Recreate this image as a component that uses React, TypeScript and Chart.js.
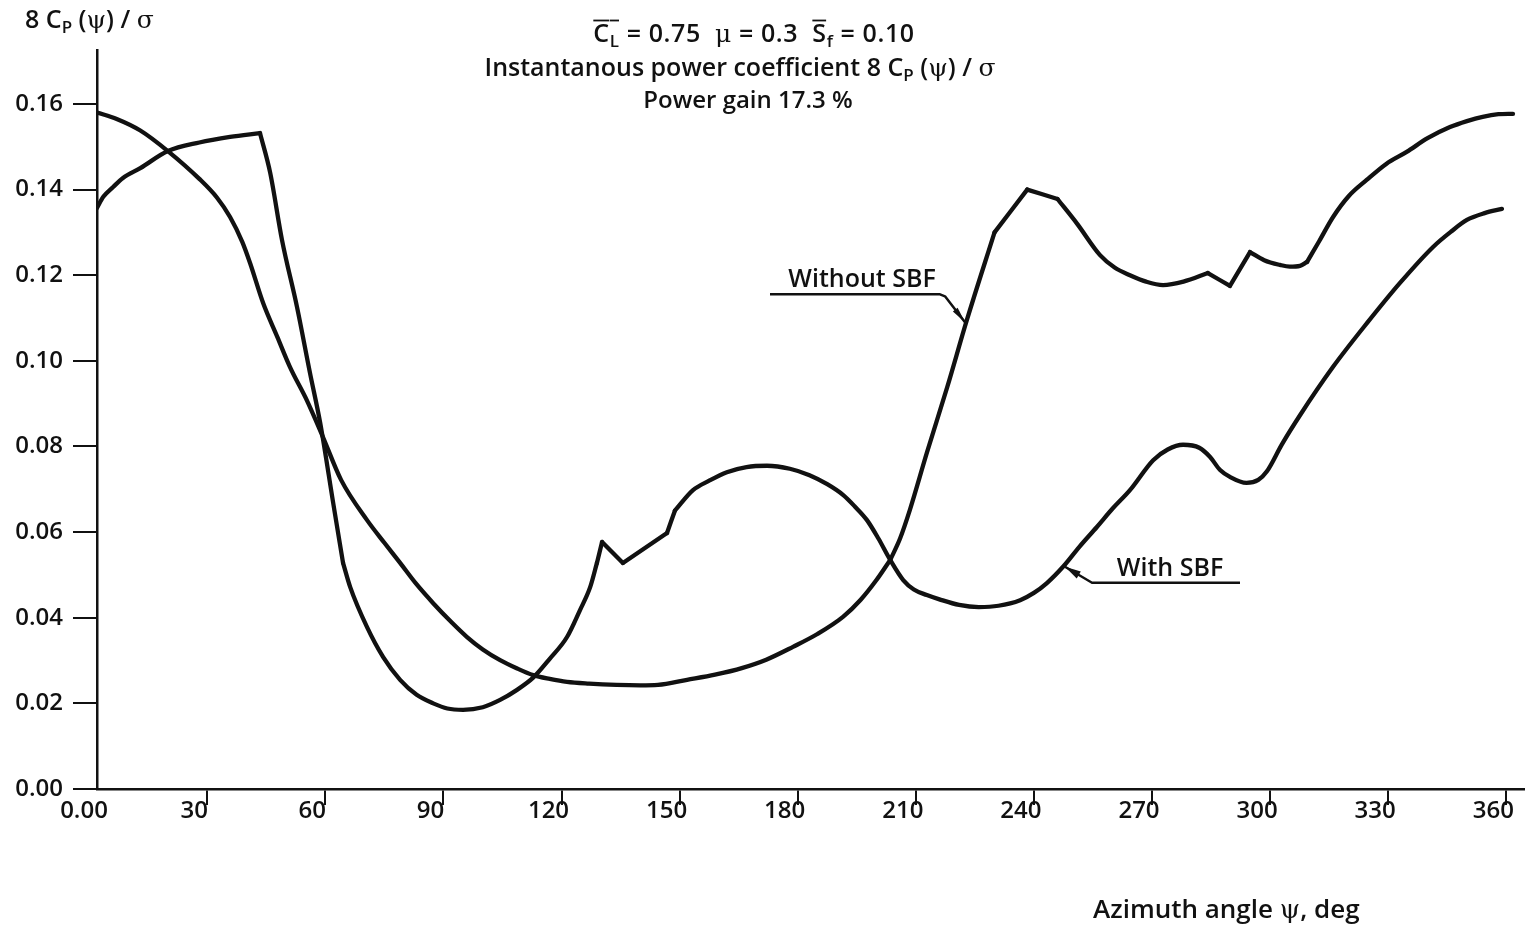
import React, { useEffect, useRef } from "react";
import { Chart, registerables } from "chart.js";

Chart.register(...registerables);

// ---------- data ----------
const angleWithout = [
  2, 7, 13, 20, 28, 32.5, 35.8, 38.9, 40.9, 44.2, 47.8, 51, 55.4, 59.4, 64, 70.6, 75, 79, 83, 87.4,
  92, 96, 100, 104.4, 108.6, 112.8, 117, 121.4, 127, 134, 140, 144.5, 151.9, 159, 166, 172, 178.8,
  185, 191.5, 196, 200, 203.5, 206, 208.5, 212.8, 218, 223, 230, 238.3, 246, 251, 256.8, 260.5,
  264.4, 268.5, 272.8, 278, 284.2, 289.8, 294.9, 298.5, 302.5, 305, 307.6, 309.4, 312.5, 316, 320,
  324.6, 329.5, 334.7, 340, 345.7, 350, 354, 358, 361.7,
];
const valueWithout = [
  0.158, 0.1565, 0.1538, 0.149, 0.1425, 0.1381, 0.1336, 0.1278, 0.1228, 0.1135, 0.1056, 0.0986,
  0.0906, 0.0822, 0.0722, 0.0628, 0.0575, 0.0528, 0.048, 0.0434, 0.039, 0.0355, 0.0326, 0.0301,
  0.0282, 0.0266, 0.0257, 0.025, 0.0246, 0.0243, 0.0242, 0.0243, 0.0255, 0.0267, 0.0283, 0.0302,
  0.0332, 0.0362, 0.0402, 0.0442, 0.0488, 0.0535, 0.0585, 0.0652, 0.0785, 0.0939, 0.1096, 0.13,
  0.14, 0.1378, 0.132, 0.1247, 0.1218, 0.12, 0.1185, 0.1177, 0.1185, 0.1205, 0.1175, 0.1254,
  0.1235, 0.1224, 0.122, 0.1222, 0.1231, 0.128, 0.1336, 0.1385, 0.1423, 0.146, 0.1488, 0.152,
  0.1546, 0.156, 0.157, 0.1576, 0.1577,
];
// angles where the "without" curve has a sharp corner
const cornersWithout = [203.5, 230, 238.3, 246, 284.2, 289.8, 294.9, 309.4];

const angleWith = [
  2, 3.6, 6.1, 8.6, 13, 20, 28, 35.8, 43.4, 46, 49, 52.8, 56.1, 58.7, 62, 64.5, 66.3, 70.6, 74.7,
  79, 83.2, 87.4, 91, 95, 100, 104.4, 108.6, 112.8, 117, 121.4, 124.7, 127.3, 129, 130.3, 135.6,
  146.8, 148.8, 153.4, 157.5, 162, 167, 172.2, 178, 183, 187.5, 191.5, 194.5, 197.6, 200.5, 203.5,
  206.8, 209.5, 212.8, 216, 221, 226, 231, 236.5, 240, 243.3, 247.4, 251.5, 256, 260, 264.4, 270.3,
  274, 277.9, 282, 284.7, 287.3, 289.8, 294, 297, 299.2, 303, 307.6, 316, 324.6, 333, 341.4, 346,
  350, 354.5, 358.9,
];
const valueWith = [
  0.1357, 0.1383, 0.1406, 0.1427, 0.145, 0.149, 0.151, 0.1523, 0.1532, 0.1439, 0.1282, 0.1126,
  0.0972, 0.0855, 0.0668, 0.0528, 0.0472, 0.0378, 0.0308, 0.0255, 0.022, 0.02, 0.0188, 0.0185,
  0.0191, 0.0208, 0.0231, 0.026, 0.0304, 0.0355, 0.0418, 0.0472, 0.0528, 0.0577, 0.0528, 0.0598,
  0.065, 0.0698, 0.072, 0.074, 0.0752, 0.0755, 0.0748, 0.0733, 0.0712, 0.0687, 0.066, 0.0628,
  0.0585, 0.0535, 0.0488, 0.0466, 0.0453, 0.0443, 0.043, 0.0425, 0.0428, 0.0441, 0.0458, 0.0481,
  0.0519, 0.0565, 0.0612, 0.0655, 0.0698, 0.0768, 0.0793, 0.0804, 0.0797, 0.0776, 0.0745, 0.0729,
  0.0715, 0.0722, 0.0742, 0.0805, 0.0873, 0.0986, 0.1088, 0.1182, 0.1266, 0.1302, 0.1329, 0.1345,
  0.1355,
];
// angles where the "with" curve has a sharp corner
const cornersWith = [43.4, 64.5, 129, 130.3, 135.6, 146.8, 148.8];

const X_MIN = 2;
const X_MAX = 364.5;
const Y_MIN = 0;
const Y_MAX = 0.1726;

const xTickValues = [X_MIN, 30, 60, 90, 120, 150, 180, 210, 240, 270, 300, 330, 360];
const xTickLabels = ["0.00", "30", "60", "90", "120", "150", "180", "210", "240", "270", "300", "330", "360"];
const yTickValues = [0, 0.02, 0.04, 0.06, 0.08, 0.1, 0.12, 0.14, 0.16];
const yTickLabels = ["0.00", "0.02", "0.04", "0.06", "0.08", "0.10", "0.12", "0.14", "0.16"];

// callout tips (data space) – where the leader lines touch the curves
const withoutTip = { x: 222.5, y: 0.109 };
const withTip = { x: 247.9, y: 0.0519 };

// ---------- styling ----------
const SANS = '"Open Sans", "Noto Sans", sans-serif';
const SERIF = '"DejaVu Serif", "Liberation Serif", serif';
const WEIGHT = "600";
const INK = "#111";

type Seg = { t: string; sub?: boolean; bar?: boolean; serif?: boolean };

function segFont(s: Seg, size: number) {
  const sz = s.sub ? Math.round(size * 0.68) : size;
  return `${s.serif ? "normal" : WEIGHT} ${sz}px ${s.serif ? SERIF : SANS}`;
}

function drawRich(
  ctx: CanvasRenderingContext2D,
  segs: Seg[],
  x: number,
  y: number,
  size: number,
  align: "left" | "center",
  spacing = 0
) {
  ctx.save();
  ctx.textBaseline = "alphabetic";
  ctx.textAlign = "left";
  ctx.fillStyle = INK;
  (ctx as any).letterSpacing = `${spacing}px`;
  const widths = segs.map((s) => {
    ctx.font = segFont(s, size);
    return ctx.measureText(s.t).width;
  });
  const total = widths.reduce((a, b) => a + b, 0);
  let cx = align === "center" ? x - total / 2 : x;
  segs.forEach((s, i) => {
    ctx.font = segFont(s, size);
    const yy = s.sub ? y + size * 0.18 : y;
    ctx.fillText(s.t, cx, yy);
    if (s.bar) {
      ctx.strokeStyle = INK;
      ctx.lineWidth = 1.8;
      ctx.beginPath();
      const by = y - size * 0.86;
      ctx.moveTo(cx, by);
      ctx.lineTo(cx + widths[i] - spacing, by);
      ctx.stroke();
    }
    cx += widths[i];
  });
  ctx.restore();
}

function arrowHead(ctx: CanvasRenderingContext2D, fx: number, fy: number, tx: number, ty: number, len: number, half: number) {
  const a = Math.atan2(ty - fy, tx - fx);
  const bx = tx - Math.cos(a) * len;
  const by = ty - Math.sin(a) * len;
  ctx.beginPath();
  ctx.moveTo(tx, ty);
  ctx.lineTo(bx + Math.sin(a) * half, by - Math.cos(a) * half);
  ctx.lineTo(bx - Math.sin(a) * half, by + Math.cos(a) * half);
  ctx.closePath();
  ctx.fill();
}

const textPlugin = {
  id: "figureText",
  afterDraw(chart: any) {
    const ctx: CanvasRenderingContext2D = chart.ctx;
    const xs = chart.scales.x;
    const ys = chart.scales.y;

    // y-axis title
    drawRich(ctx, [{ t: "8 C" }, { t: "P", sub: true }, { t: " (" }, { t: "ψ", serif: true }, { t: ") / " }, { t: "σ", serif: true }], 25, 28, 25, "left");

    // header
    drawRich(
      ctx,
      [
        { t: "C", bar: true },
        { t: "L", sub: true, bar: true },
        { t: " = 0.75  " },
        { t: "μ", serif: true },
        { t: " = 0.3  " },
        { t: "S", bar: true },
        { t: "f", sub: true },
        { t: " = 0.10" },
      ],
      754, 42, 25, "center", 0.6
    );
    drawRich(
      ctx,
      [{ t: "Instantanous power coefficient 8 C" }, { t: "P", sub: true }, { t: " (" }, { t: "ψ", serif: true }, { t: ") / " }, { t: "σ", serif: true }],
      740, 76, 25, "center"
    );
    drawRich(ctx, [{ t: "Power gain 17.3 %" }], 748, 108, 24, "center");

    // x-axis title
    drawRich(ctx, [{ t: "Azimuth angle " }, { t: "ψ", serif: true }, { t: ", deg" }], 1093, 918, 26, "left");

    ctx.save();
    ctx.strokeStyle = INK;
    ctx.fillStyle = INK;
    ctx.lineWidth = 2.5;
    ctx.lineJoin = "round";

    // "Without SBF" callout
    const ax = xs.getPixelForValue(withoutTip.x);
    const ay = ys.getPixelForValue(withoutTip.y);
    ctx.beginPath();
    ctx.moveTo(ax - 195, ay - 28);
    ctx.lineTo(ax - 25, ay - 28);
    ctx.lineTo(ax - 20, ay - 26);
    ctx.lineTo(ax, ay);
    ctx.stroke();
    arrowHead(ctx, ax - 20, ay - 26, ax, ay, 16, 3);
    drawRich(ctx, [{ t: "Without SBF" }], ax - 103, ay - 35, 25, "center");

    // "With SBF" callout
    const bx = xs.getPixelForValue(withTip.x);
    const by = ys.getPixelForValue(withTip.y);
    ctx.beginPath();
    ctx.moveTo(bx + 175, by + 16);
    ctx.lineTo(bx + 27, by + 16);
    ctx.lineTo(bx, by);
    ctx.stroke();
    arrowHead(ctx, bx + 27, by + 16, bx, by, 16, 4);
    drawRich(ctx, [{ t: "With SBF" }], bx + 105, by + 9, 25, "center");
    ctx.restore();
  },
};

// split a curve into smooth pieces between its sharp corners
function pieces(angles: number[], values: number[], corners: number[]) {
  const out: { x: number; y: number }[][] = [];
  let cur: { x: number; y: number }[] = [];
  angles.forEach((a, i) => {
    cur.push({ x: a, y: values[i] });
    if (corners.includes(a) && i > 0 && i < angles.length - 1) {
      out.push(cur);
      cur = [{ x: a, y: values[i] }];
    }
  });
  if (cur.length > 1) out.push(cur);
  return out;
}

function lineDataset(label: string, data: { x: number; y: number }[]) {
  return {
    label,
    data,
    showLine: true,
    borderColor: INK,
    borderWidth: 4.3,
    pointRadius: 0,
    cubicInterpolationMode: "monotone",
    borderJoinStyle: "round",
    borderCapStyle: "round",
  };
}

export default function App() {
  const ref = useRef<HTMLCanvasElement | null>(null);

  useEffect(() => {
    if (!ref.current) return;
    const datasets = [
      ...pieces(angleWithout, valueWithout, cornersWithout).map((d) => lineDataset("Without SBF", d)),
      ...pieces(angleWith, valueWith, cornersWith).map((d) => lineDataset("With SBF", d)),
    ];
    const tickFont = { family: SANS, size: 24, weight: WEIGHT };
    const chart = new Chart(ref.current, {
      type: "scatter",
      data: { datasets },
      options: {
        responsive: false,
        maintainAspectRatio: false,
        devicePixelRatio: 1,
        animation: false,
        layout: { padding: { top: 50, right: 2, left: 0, bottom: 0 } },
        plugins: { legend: { display: false }, title: { display: false }, tooltip: { enabled: false } },
        scales: {
          x: {
            type: "linear",
            min: X_MIN,
            max: X_MAX,
            border: { color: INK, width: 2.5 },
            grid: {
              drawOnChartArea: false,
              drawTicks: true,
              tickLength: 16,
              lineWidth: 2,
              color: (c: any) => (c.tick && c.tick.value === X_MIN ? "rgba(0,0,0,0)" : INK),
            },
            ticks: {
              autoSkip: false,
              maxRotation: 0,
              labelOffset: -13,
              padding: 3,
              color: INK,
              font: { ...tickFont, lineHeight: 0.25 },
              callback: (_v: any, i: number) => xTickLabels[i],
            },
            afterBuildTicks: (s: any) => {
              s.ticks = xTickValues.map((v) => ({ value: v }));
            },
            afterFit: (s: any) => {
              s.height = 137;
              s.paddingLeft = 0;
              s.paddingRight = 0;
            },
          },
          y: {
            type: "linear",
            min: Y_MIN,
            max: Y_MAX,
            border: { color: INK, width: 2.5 },
            grid: { drawOnChartArea: false, drawTicks: true, tickLength: 24, lineWidth: 2, color: INK },
            ticks: {
              padding: 10,
              color: INK,
              font: tickFont,
              callback: (_v: any, i: number) => yTickLabels[i],
            },
            afterBuildTicks: (s: any) => {
              s.ticks = yTickValues.map((v) => ({ value: v }));
            },
            afterFit: (s: any) => {
              s.width = 97;
              s.paddingTop = 0;
              s.paddingBottom = 0;
            },
          },
        },
      } as any,
      plugins: [textPlugin],
    });
    return () => chart.destroy();
  }, []);

  return (
    <div style={{ position: "fixed", left: 0, top: 0, width: 1526, height: 926, background: "#fff" }}>
      <canvas ref={ref} width={1526} height={926} style={{ display: "block" }} />
    </div>
  );
}
